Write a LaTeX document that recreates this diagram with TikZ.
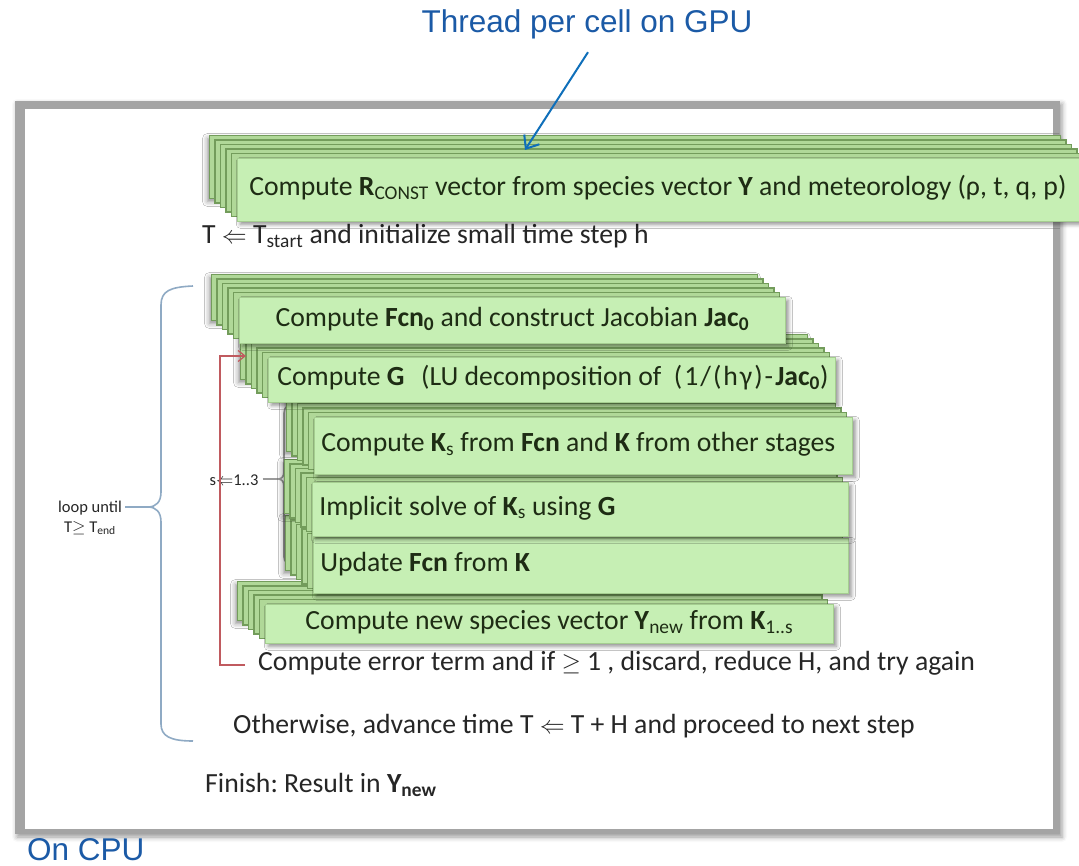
\documentclass[tikz,border=0pt]{standalone}
\usepackage{fontspec}
\setmainfont{Carlito}
\newfontfamily\labelfont{Liberation Sans}
\usetikzlibrary{arrows.meta,shadows.blur,calc}
\frenchspacing

\definecolor{framegray}{HTML}{A4A4A4}
\definecolor{maintext}{HTML}{262626}
\definecolor{boxtext}{HTML}{1E2C14}
\definecolor{frontfill}{HTML}{C6EFB4}
\definecolor{layerfill}{HTML}{B0D898}
\definecolor{layeredge}{HTML}{739C5B}
\definecolor{cpublue}{HTML}{1B5AA6}
\definecolor{arrowblue}{HTML}{0F6FBA}
\definecolor{loopred}{HTML}{C05A5F}
\definecolor{bracecol}{HTML}{8FAAC4}
\definecolor{stagecol}{HTML}{9A9A9A}

\newcommand\lo[1]{\textsubscript{#1}}

% a stack of offset copies behind a front box:
% #1 name, #2 x1, #3 y1, #4 x2, #5 y2, #6 left padding, #7 alignment, #8 text
\newcommand\stackedbox[8]{%
  \draw[layer, backshadow] ({#2-5.5*5},{#3-4.5*5}) rectangle ({#4-5.5*5},{#5-4.5*5});
  \foreach \k in {4,3,2,1}{%
    \draw[layer] ({#2-5.5*\k},{#3-4.5*\k}) rectangle ({#4-5.5*\k},{#5-4.5*\k});
  }
  \node[front, minimum width={#4-#2}, minimum height={#5-#3}] (#1) at (#2,#3)
    {\hspace*{#6pt}\makebox[\dimexpr #4pt-#2pt-#6pt\relax][#7]{#8}};
}

\begin{document}
\begin{tikzpicture}[x=1pt,y=-1pt,
  bigfont/.style={font=\fontsize{27.7pt}{32pt}\selectfont},
  smallfont/.style={font=\fontsize{16.5pt}{20pt}\selectfont},
  backshadow/.style={blur shadow={shadow xshift=-2pt, shadow yshift=-3pt,
    shadow blur radius=5pt, shadow opacity=45}},
  frontshadow/.style={blur shadow={shadow xshift=3pt, shadow yshift=-3pt,
    shadow blur radius=4pt, shadow opacity=45}},
  layer/.style={fill=layerfill, draw=layeredge, line width=1.1pt},
  front/.style={bigfont, fill=frontfill, draw=layeredge!40!frontfill, line width=0.6pt,
    inner xsep=0pt, inner ysep=0pt, text=boxtext, text height=18pt, text depth=6.5pt,
    anchor=north west, frontshadow},
  plaintext/.style={bigfont, text=maintext, inner sep=0pt, text height=18pt, text depth=6.5pt, anchor=west},
  smalltext/.style={smallfont, text=maintext, inner sep=0pt, align=center},
  cpulabel/.style={font=\labelfont\fontsize{31.5pt}{36pt}\selectfont, text=cpublue, inner sep=0pt,
    text height=23pt, text depth=0pt},
  gpuarrow/.style={draw=arrowblue, line width=2pt,
    -{Straight Barb[length=11pt,width=18pt,line width=2pt]}},
  retry/.style={draw=loopred, line width=1.2pt,
    -{Straight Barb[length=7pt,width=11pt,line width=1.2pt]}},
  brace/.style={draw=bracecol, line width=1.6pt},
  stagebrace/.style={draw=stagecol, line width=1.6pt},
]
\useasboundingbox (0,0) rectangle (1079,866);
\clip (0,0) rectangle (1079,866);

% framed panel
\fill[framegray, blur shadow={shadow xshift=2pt, shadow yshift=-3pt, shadow blur radius=5pt, shadow opacity=40}]
  (15,101) rectangle (1060,834);
\fill[white] (25,109) rectangle (1053,829);

% captions outside the panel
\node[cpulabel] (gpu) at (587,21.5) {Thread per cell on GPU};
\node[cpulabel, anchor=west] (cpu) at (27,849) {On CPU};

% plain steps
\node[plaintext] (init) at (202,238) {T $\Leftarrow$ T\lo{start} and initialize small time step h};
\node[plaintext] (err) at (258,665) {Compute error term and if $\geq$ 1 , discard, reduce H, and try again};
\node[plaintext] (adv) at (233,728) {Otherwise, advance time T $\Leftarrow$ T + H and proceed to next step};
\node[plaintext] (fin) at (205,787) {Finish: Result in \textbf{Y\lo{new}}};

% loop labels
\node[smalltext] (loop) at (90,518) {loop until\\T$\geq$ T\lo{end}};
\node[smalltext] (stage) at (234,480) {s$\Leftarrow$1..3};

% outer loop brace
\coordinate (looptip) at (148,507);
\draw[brace] (193,286) .. controls (170,287) and (161,291) .. (161,305)
  -- (161,492) .. controls (161,502) and (156,507) .. (looptip)
  .. controls (156,507) and (161,512) .. (161,522)
  -- (161,724) .. controls (161,736) and (170,741) .. (193,741);
\draw[brace] (loop.east |- looptip) ++(3,0) -- (looptip);

% stage brace
\coordinate (stagetip) at (278,479);
\draw[stagebrace] (296,404) .. controls (288,404) and (284,407) .. (284,413)
  -- (284,472) .. controls (284,476) and (282,479) .. (stagetip)
  .. controls (282,479) and (284,482) .. (284,486)
  -- (284,557) .. controls (284,562) and (288,565) .. (296,565);
\draw[stagebrace] (stage.east |- stagetip) ++(4,0) -- (stagetip);

% stacked steps, lower ones first
\stackedbox{ynew}{265}{604}{833}{643}{0}{c}{Compute new species vector \textbf{Y}\lo{new} from \textbf{K}\lo{1..s}}
\stackedbox{upd}{313}{538}{848}{593}{7}{l}{Update \textbf{Fcn} from \textbf{K}}
\stackedbox{solve}{312}{482}{848}{536}{7}{l}{Implicit solve of \textbf{K}\lo{s} using \textbf{G}}
\stackedbox{ks}{314}{417}{852}{474}{7}{l}{Compute \textbf{K}\lo{s} from \textbf{Fcn} and \textbf{K} from other stages}
\stackedbox{lu}{268}{357}{835}{402}{9}{l}{Compute \textbf{G}\hspace{0.6em}(LU decomposition of\hspace{0.45em}(\kern2pt1\kern2pt/\kern2pt(\kern2pth\kern2ptγ\kern2pt)\kern2pt-\kern2pt\textbf{Jac\lo{0}})}
\stackedbox{jac}{239}{297}{785}{343}{0}{c}{Compute \textbf{Fcn\lo{0}} and construct Jacobian \textbf{Jac\lo{0}}}
\stackedbox{rconst}{237}{158}{1088}{221}{12}{l}{Compute \textbf{R}\lo{CONST} vector from species vector \textbf{Y} and meteorology (ρ, t, q, p)}

% retry loop back to the decomposition
\coordinate (gin) at (246,356);
\draw[retry] (err.west) ++(-13,0) -- (220,665) |- (gin);

% pointer from the GPU caption to the per-cell work
\coordinate (gpuhit) at (525,150);
\draw[gpuarrow] ($(gpu.south)+(1,19)$) -- (gpuhit);
\end{tikzpicture}
\end{document}
